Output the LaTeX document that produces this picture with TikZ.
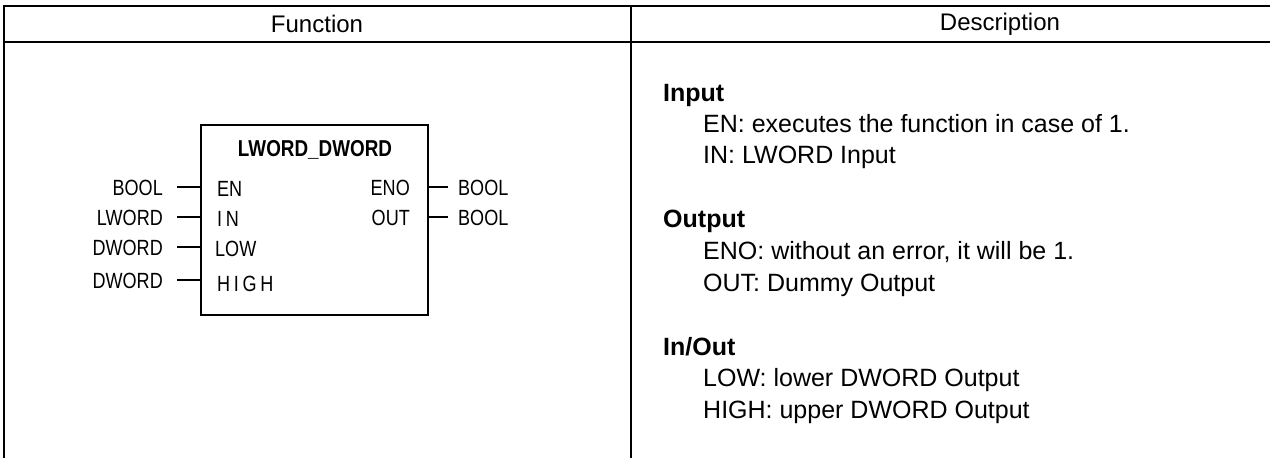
\documentclass[tikz,border=0pt]{standalone}
\usepackage{fontspec}
\setmainfont{Liberation Sans}
\newfontfamily\narrowfont[FakeStretch=0.82]{Liberation Sans}
\begin{document}
\begin{tikzpicture}[x=1pt,y=-1pt,
  rule/.style={line width=2pt},
  pinline/.style={line width=2.8pt},
  hdr/.style={inner sep=0pt,font=\fontsize{24}{28}\selectfont},
  desc/.style={inner sep=0pt,anchor=base west,font=\fontsize{25}{30}\selectfont},
  deschead/.style={desc,font=\fontsize{25}{30}\selectfont\bfseries},
  pinname/.style={inner sep=0pt,font=\narrowfont\fontsize{22}{26}\selectfont},
  typelab/.style={inner sep=0pt,font=\narrowfont\fontsize{22}{26}\selectfont},
  fbox/.style={draw,line width=2pt,minimum width=227pt,minimum height=190pt,inner sep=0pt,anchor=north west}]
\useasboundingbox (0,0) rectangle (1270,458);
% table
\draw[rule] (3,6) -- (1270,6);
\draw[rule] (3,42) -- (1270,42);
\draw[rule] (4,5) -- (4,458);
\draw[rule] (631,5) -- (631,458);
\node[hdr] (hfun) at (317,24) {Function};
\node[hdr] (hdesc) at (1000,24) {Description};
% function block
\node[fbox] (fb) at (200,124) {};
\node[inner sep=0pt,font=\narrowfont\fontsize{23}{27}\selectfont\bfseries] (title) at (315,150) {LWORD\_DWORD};
% input pins
\coordinate (cEN) at (177,187);
\coordinate (cIN) at (177,217);
\coordinate (cLOW) at (177,247);
\coordinate (cHIGH) at (177,280);
\draw[pinline] (cEN) -- (fb.west |- cEN);
\draw[pinline] (cIN) -- (fb.west |- cIN);
\draw[pinline] (cLOW) -- (fb.west |- cLOW);
\draw[pinline] (cHIGH) -- (fb.west |- cHIGH);
\node[typelab,anchor=base east] (tEN) at (163,195) {BOOL};
\node[typelab,anchor=base east] (tIN) at (163,225) {LWORD};
\node[typelab,anchor=base east] (tLOW) at (163,255) {DWORD};
\node[typelab,anchor=base east] (tHIGH) at (163,288) {DWORD};
\node[pinname,anchor=base west] (pEN) at (217,196) {EN};
\node[pinname,anchor=base west] (pIN) at (217,226) {I\,N};
\node[pinname,anchor=base west] (pLOW) at (215,256) {LOW};
\node[pinname,anchor=base west] (pHIGH) at (217,291) {H\,I\,G\,H};
% output pins
\coordinate (cENO) at (448,187);
\coordinate (cOUT) at (448,217);
\draw[pinline] (fb.east |- cENO) -- (cENO);
\draw[pinline] (fb.east |- cOUT) -- (cOUT);
\node[pinname,anchor=base east] (pENO) at (410,195) {ENO};
\node[pinname,anchor=base east] (pOUT) at (410,225) {OUT};
\node[typelab,anchor=base west] (tENO) at (458,195) {BOOL};
\node[typelab,anchor=base west] (tOUT) at (458,225) {BOOL};
% description
\node[deschead] (dIn) at (663,101) {Input};
\node[desc] (dEN) at (703,132) {EN: executes the function in case of 1.};
\node[desc] (dIN) at (703,163) {IN: LWORD Input};
\node[deschead] (dOut) at (663,227) {Output};
\node[desc] (dENO) at (703,259) {ENO: without an error, it will be 1.};
\node[desc] (dOUT) at (703,291) {OUT: Dummy Output};
\node[deschead] (dInOut) at (663,355) {In/Out};
\node[desc] (dLOW) at (703,386) {LOW: lower DWORD Output};
\node[desc] (dHIGH) at (703,418) {HIGH: upper DWORD Output};
\end{tikzpicture}
\end{document}
